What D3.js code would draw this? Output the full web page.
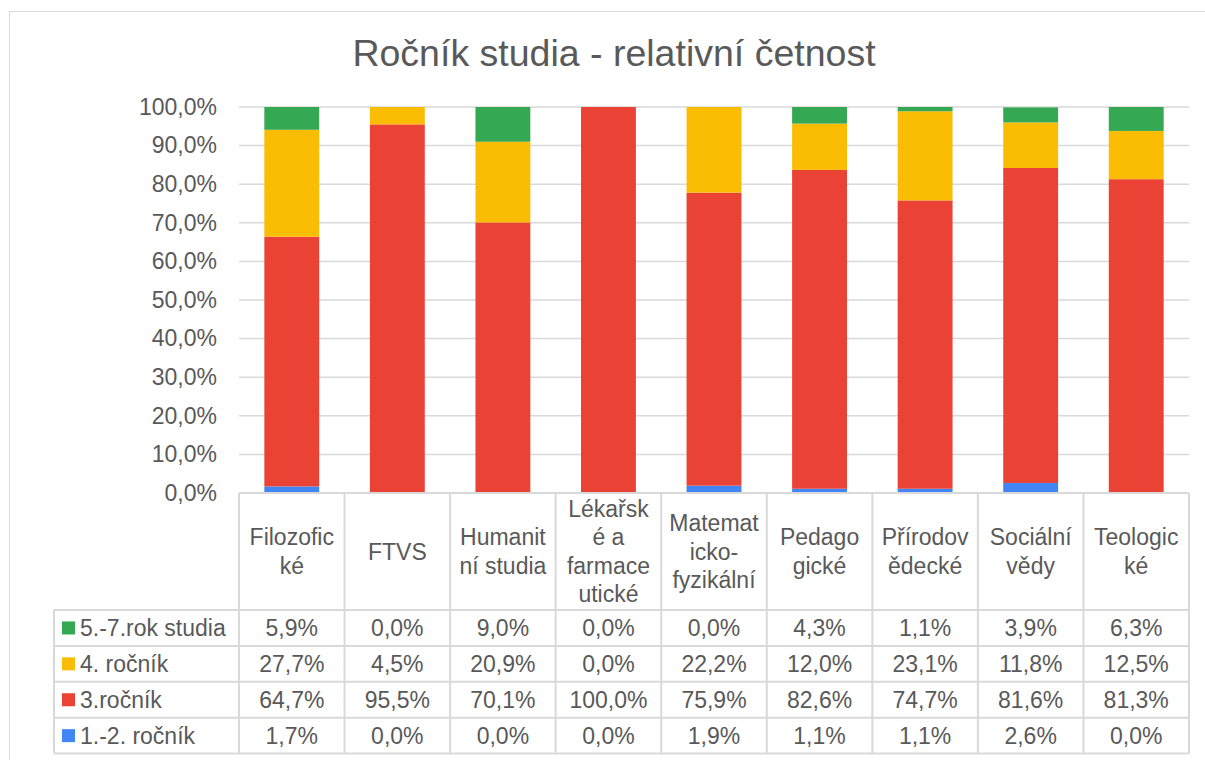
<!DOCTYPE html>
<html><head><meta charset="utf-8">
<script src="https://cdn.jsdelivr.net/npm/d3@7"></script>
<style>body{margin:0;background:#fff}svg{display:block;font-family:"Liberation Sans",Arial,sans-serif}</style>
</head><body>
<svg id="c" width="1205" height="760"></svg>
<script>
const categories = ["Filozofické","FTVS","Humanitní studia","Lékařské a farmaceutické","Matematicko-fyzikální","Pedagogické","Přírodovědecké","Sociální vědy","Teologické"];
const categoryLines = [["Filozofic","ké"],["FTVS"],["Humanit","ní studia"],["Lékařsk","é a","farmace","utické"],["Matemat","icko-","fyzikální"],["Pedago","gické"],["Přírodov","ědecké"],["Sociální","vědy"],["Teologic","ké"]];
const seriesNames = ["1.-2. ročník","3.ročník","4. ročník","5.-7.rok studia"];
const s12 = [1.7,0.0,0.0,0.0,1.9,1.1,1.1,2.6,0.0];
const s3 = [64.7,95.5,70.1,100.0,75.9,82.6,74.7,81.6,81.3];
const s4 = [27.7,4.5,20.9,0.0,22.2,12.0,23.1,11.8,12.5];
const s57 = [5.9,0.0,9.0,0.0,0.0,4.3,1.1,3.9,6.3];
const colors = ["#4285F4","#EA4335","#FBBC04","#34A853"];
const yTicks = [0,10,20,30,40,50,60,70,80,90,100];
const fmt = v => v.toFixed(1).replace(".", ",") + "%";

const svg = d3.select("#c");
const txt = "#595959", grid = "#d9d9d9";
const fs = 23;
svg.append("rect").attr("x",9.5).attr("y",11.5).attr("width",1210).attr("height",760).attr("fill","none").attr("stroke","#d9d9d9");

svg.append("text").attr("x",614).attr("y",66).attr("text-anchor","middle").attr("font-size",37.5).attr("fill",txt).text("Ročník studia - relativní četnost");

const pL = 239, pR = 1189, pT = 107, pB = 493;
const x = d3.scaleBand().domain(categories).range([pL,pR]).paddingInner(0.48).paddingOuter(0.24);
const xc = d3.scaleBand().domain(categories).range([pL,pR]);
const y = d3.scaleLinear().domain([0,100]).range([pB,pT]);

svg.append("g").selectAll("line").data(yTicks.slice(1)).join("line")
  .attr("x1",pL).attr("x2",pR).attr("y1",d=>y(d)).attr("y2",d=>y(d)).attr("stroke",grid).attr("stroke-width",1.5);
const yAxis = d3.axisLeft(y).tickValues(yTicks).tickFormat(fmt).tickSize(0).tickPadding(22);
const ga = svg.append("g").attr("transform",`translate(${pL},0)`).call(yAxis);
ga.select(".domain").remove();
ga.selectAll("text").attr("font-size",fs).attr("fill",txt).attr("font-family","Liberation Sans, Arial, sans-serif");

const rows = categories.map((c,i)=>({cat:c, a:s12[i], b:s3[i], c:s4[i], d:s57[i]}));
const stack = d3.stack().keys(["a","b","c","d"])(rows);
svg.append("g").selectAll("g").data(stack).join("g").attr("fill",(d,i)=>colors[i])
  .selectAll("rect").data(d=>d).join("rect")
  .attr("x",d=>x(d.data.cat)).attr("width",x.bandwidth())
  .attr("y",d=>y(Math.min(100,d[1]))).attr("height",d=>Math.max(0,y(d[0])-y(Math.min(100,d[1]))));

const headTop = pB, headBot = 610, rowH = 35.9;
const tableBot = headBot + rowH*4;
const legLeft = 54;
const tg = svg.append("g").attr("stroke",grid).attr("stroke-width",2);
tg.append("line").attr("x1",pL).attr("x2",pR).attr("y1",headTop).attr("y2",headTop);
for(let r=0;r<=4;r++){
  const yy = headBot + r*rowH;
  tg.append("line").attr("x1",legLeft).attr("x2",pR).attr("y1",yy).attr("y2",yy);
}
tg.append("line").attr("x1",legLeft).attr("x2",legLeft).attr("y1",headBot).attr("y2",tableBot);
xc.domain().forEach(c=>{
  tg.append("line").attr("x1",xc(c)).attr("x2",xc(c)).attr("y1",headTop).attr("y2",tableBot);
});
tg.append("line").attr("x1",pR).attr("x2",pR).attr("y1",headTop).attr("y2",tableBot);

const lh = 28.5;
categories.forEach((c,i)=>{
  const lines = categoryLines[i];
  const cy = (headTop+headBot)/2 - (lines.length-1)*lh/2;
  const t = svg.append("text").attr("text-anchor","middle").attr("font-size",fs).attr("fill",txt);
  lines.forEach((l,k)=>{
    t.append("tspan").attr("x",xc(c)+xc.bandwidth()/2).attr("y",cy+k*lh+8).text(l);
  });
});

const tableSeries = [[seriesNames[3],s57,colors[3]],[seriesNames[2],s4,colors[2]],[seriesNames[1],s3,colors[1]],[seriesNames[0],s12,colors[0]]];
tableSeries.forEach(([name,vals,col],r)=>{
  const cy = headBot + r*rowH + rowH/2;
  svg.append("rect").attr("x",62).attr("y",cy-6.5).attr("width",13).attr("height",13).attr("fill",col);
  svg.append("text").attr("x",80).attr("y",cy+8).attr("font-size",fs).attr("fill",txt).text(name);
  vals.forEach((v,i)=>{
    svg.append("text").attr("x",xc(categories[i])+xc.bandwidth()/2).attr("y",cy+8).attr("text-anchor","middle").attr("font-size",fs).attr("fill",txt).text(fmt(v));
  });
});
</script>
</body></html>
